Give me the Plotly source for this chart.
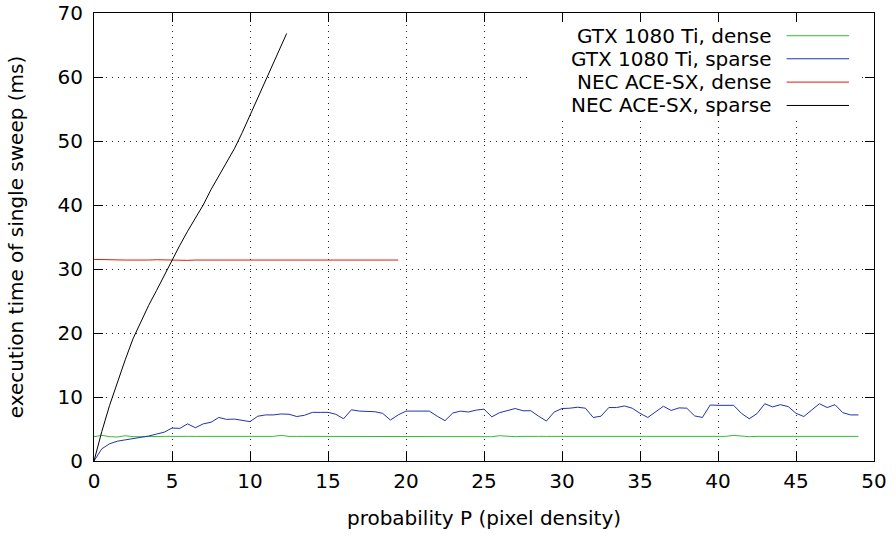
import plotly.graph_objects as go

# Probability P (pixel density, %) sampled every 0.5
p_gtx = [i * 0.5 for i in range(99)]
p_nec_dense = [i * 0.5 for i in range(40)]
p_nec_sparse = [i * 0.5 for i in range(25)] + [12.35]

# Execution time of a single sweep (ms)
gtx_dense = [
    3.8, 4.0, 3.8, 3.75, 3.95, 3.8, 3.8, 3.85, 3.85, 3.85,
    3.85, 3.8, 3.85, 3.85, 3.85, 3.85, 3.8, 3.85, 3.85, 3.8,
    3.85, 3.85, 3.8, 3.85, 4.0, 3.85, 3.85, 3.85, 3.85, 3.8,
    3.8, 3.85, 3.8, 3.8, 3.8, 3.85, 3.85, 3.8, 3.8, 3.85,
    3.85, 3.85, 3.85, 3.85, 3.8, 3.8, 3.8, 3.85, 3.85, 3.85,
    3.9, 3.8, 3.95, 3.85, 3.8, 3.85, 3.9, 3.85, 3.85, 3.85,
    3.85, 3.85, 3.9, 3.85, 3.85, 3.9, 3.9, 3.85, 3.95, 3.9,
    3.85, 3.85, 3.85, 3.85, 3.9, 3.85, 3.85, 3.85, 3.85, 3.85,
    3.85, 3.85, 4.0, 3.85, 3.8, 3.85, 3.85, 3.85, 3.85, 3.9,
    3.95, 3.85, 3.85, 3.9, 3.85, 3.85, 3.9, 3.85, 3.85,
]
gtx_sparse = [
    0.0, 1.9, 2.7, 3.1, 3.3, 3.5, 3.65, 3.9, 4.2, 4.5,
    5.15, 5.1, 5.8, 5.2, 5.8, 6.05, 6.8, 6.5, 6.55, 6.4,
    6.15, 7.0, 7.2, 7.2, 7.35, 7.3, 6.95, 7.15, 7.6, 7.6,
    7.6, 7.3, 6.6, 8.0, 7.8, 7.75, 7.7, 7.45, 6.4, 7.2,
    7.8, 7.8, 7.8, 7.8, 7.0, 6.3, 7.5, 7.8, 7.65, 7.95,
    8.1, 6.9, 7.55, 7.85, 8.2, 7.85, 7.85, 7.0, 6.25, 7.65,
    8.2, 8.25, 8.4, 8.25, 6.8, 7.0, 8.35, 8.35, 8.6, 8.25,
    7.45, 6.8, 7.7, 8.55, 7.9, 8.3, 8.25, 7.05, 6.8, 8.75,
    8.7, 8.65, 8.7, 7.45, 6.6, 7.4, 8.95, 8.45, 8.8, 8.5,
    7.45, 6.95, 7.9, 8.95, 8.35, 8.8, 7.55, 7.2, 7.2,
]
nec_dense = [
    31.5, 31.45, 31.4, 31.45, 31.4, 31.4, 31.35, 31.4, 31.45, 31.4,
    31.4, 31.4, 31.35, 31.4, 31.4, 31.4, 31.45, 31.4, 31.4, 31.35,
    31.4, 31.4, 31.4, 31.45, 31.4, 31.4, 31.4, 31.4, 31.4, 31.4,
    31.45, 31.4, 31.35, 31.4, 31.4, 31.45, 31.4, 31.4, 31.4, 31.4,
]
nec_sparse = [
    0.0, 4.6, 8.7, 12.3, 15.8, 19.1, 21.8, 24.3, 26.6, 29.0,
    31.4, 33.7, 35.9, 38.0, 40.0, 42.4, 44.6, 46.6, 48.8, 51.3,
    54.0, 56.8, 59.5, 62.2, 64.7, 66.8,
]

series_names = [
    "GTX 1080 Ti, dense",
    "GTX 1080 Ti, sparse",
    "NEC ACE-SX, dense",
    "NEC ACE-SX, sparse",
]
series_colors = ["#33bb33", "#2233aa", "#dd1a0e", "#000000"]

x_ticks = [0, 5, 10, 15, 20, 25, 30, 35, 40, 45, 50]
y_ticks = [0, 10, 20, 30, 40, 50, 60, 70]

FONT = "DejaVu Sans"
FSIZE = 20

fig = go.Figure()
for xs, ys, name, color in zip(
    [p_gtx, p_gtx, p_nec_dense, p_nec_sparse],
    [gtx_dense, gtx_sparse, nec_dense, nec_sparse],
    series_names,
    series_colors,
):
    fig.add_trace(go.Scatter(
        x=xs, y=ys, mode="lines", name=name,
        line=dict(color=color, width=1),
        showlegend=False,
    ))

# Key box in the top-right corner: opaque background hides the grid,
# labels right-aligned with the line sample to their right.
fig.add_shape(type="rect", xref="x", yref="y", x0=27.9, x1=49.2, y0=53.3, y1=70,
              fillcolor="white", line=dict(width=0), layer="between")
key_rows = [66.45, 62.85, 59.2, 55.55]
for name, color, ky in zip(series_names, series_colors, key_rows):
    fig.add_annotation(x=43.6, y=ky, xref="x", yref="y", text=name,
                       showarrow=False, xanchor="right", yanchor="middle",
                       font=dict(family=FONT, size=FSIZE, color="black"))
    fig.add_shape(type="line", xref="x", yref="y", x0=44.4, x1=48.4, y0=ky, y1=ky,
                  line=dict(color=color, width=1), layer="above")

axis_common = dict(
    showline=True, linecolor="black", linewidth=1, mirror="allticks",
    ticks="inside", ticklen=9, tickcolor="black", tickwidth=1,
    showgrid=True, gridcolor="#222222", griddash="1px,5px", gridwidth=1,
    zeroline=False, automargin=False,
    tickfont=dict(family=FONT, size=FSIZE, color="black"),
)

fig.update_xaxes(
    range=[0, 50], tickmode="array", tickvals=x_ticks,
    ticklabelstandoff=2,
    title=dict(text="probability P (pixel density)",
               font=dict(family=FONT, size=FSIZE, color="black"), standoff=18),
    **axis_common,
)
fig.update_yaxes(
    range=[0, 70], tickmode="array", tickvals=y_ticks,
    ticklabelstandoff=6,
    title=dict(text="execution time of single sweep (ms)",
               font=dict(family=FONT, size=FSIZE, color="black"), standoff=28),
    **axis_common,
)

fig.update_layout(
    width=896, height=536,
    margin=dict(l=94, r=22, t=13, b=75),
    paper_bgcolor="white", plot_bgcolor="white",
    showlegend=False,
)

fig.write_html("out.html")
